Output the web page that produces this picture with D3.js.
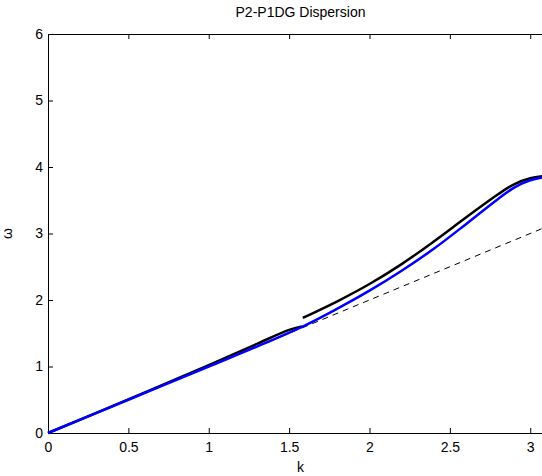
<!DOCTYPE html>
<html>
<head>
<meta charset="utf-8">
<script src="https://cdn.jsdelivr.net/npm/d3@7"></script>
<style>
  body { margin: 0; background: #fff; }
  svg { display: block; font-family: "Liberation Sans", Arial, sans-serif; }
</style>
</head>
<body>
<div id="chart"></div>
<script>
// data
const blueK = [0, 0.5, 1.0, 1.3, 1.6, 1.8, 2.0, 2.2, 2.4, 2.6, 2.8, 2.9, 3.0, 3.1416];
const blueW = [0, 0.5, 1.0, 1.3, 1.62, 1.87, 2.14, 2.44, 2.77, 3.14, 3.52, 3.69, 3.80, 3.87];

const blackLowK = [0, 0.5, 1.0, 1.3, 1.5, 1.58];
const blackLowW = [0, 0.505, 1.02, 1.34, 1.55, 1.6];

const blackHighK = [1.585, 1.8, 2.0, 2.2, 2.4, 2.6, 2.8, 2.9, 3.0, 3.1416];
const blackHighW = [1.73, 1.98, 2.24, 2.54, 2.88, 3.24, 3.59, 3.74, 3.83, 3.88];

const dashK = [0, 3.1416];
const dashW = [0, 3.1416];

const xTicks = [0, 0.5, 1, 1.5, 2, 2.5, 3];
const yTicks = [0, 1, 2, 3, 4, 5, 6];

const width = 542, height = 476;
const margin = {left: 48, top: 34, right: -11, bottom: 43};

const svg = d3.select("#chart").append("svg")
    .attr("width", width)
    .attr("height", height);

const x = d3.scaleLinear().domain([0, Math.PI]).range([margin.left, width - margin.right]);
const y = d3.scaleLinear().domain([0, 6]).range([height - margin.bottom, margin.top]);

const zip = (ks, ws) => ks.map((k, i) => [k, ws[i]]);
const line = d3.line().x(d => x(d[0])).y(d => y(d[1])).curve(d3.curveCatmullRom.alpha(0.5));

// axes, matlab style: ticks pointing in
svg.append("g")
    .attr("transform", `translate(0,${y(0)})`)
    .call(d3.axisBottom(x).tickValues(xTicks).tickSizeInner(-5).tickSizeOuter(0).tickPadding(9).tickFormat(d3.format("")));
svg.append("g")
    .attr("transform", `translate(0,${y(6)})`)
    .call(d3.axisTop(x).tickValues(xTicks).tickSizeInner(-5).tickSizeOuter(0).tickFormat(""));
svg.append("g")
    .attr("transform", `translate(${x(0)},0)`)
    .call(d3.axisLeft(y).tickValues(yTicks).tickSizeInner(-5).tickSizeOuter(0).tickPadding(5).tickFormat(d3.format("")));

svg.selectAll(".domain").attr("stroke", "#000").attr("stroke-width", 1);
svg.selectAll(".tick line").attr("stroke", "#000");
svg.selectAll(".tick text").attr("fill", "#000").style("font-size", "14px")
    .style("font-family", "\"Liberation Sans\", Arial, sans-serif");

// curves
svg.append("path")
    .datum(zip(dashK, dashW))
    .attr("d", line)
    .attr("fill", "none")
    .attr("stroke", "#000")
    .attr("stroke-width", 1)
    .attr("stroke-dasharray", "6,5");

[zip(blackLowK, blackLowW), zip(blackHighK, blackHighW)].forEach(pts => {
  svg.append("path")
      .datum(pts)
      .attr("d", line)
      .attr("fill", "none")
      .attr("stroke", "#000")
      .attr("stroke-width", 2.5);
});

svg.append("path")
    .datum(zip(blueK, blueW))
    .attr("d", line)
    .attr("fill", "none")
    .attr("stroke", "#0000ff")
    .attr("stroke-width", 2.5);

// labels
svg.append("text")
    .attr("x", (x(0) + x(Math.PI)) / 2)
    .attr("y", 17)
    .attr("text-anchor", "middle")
    .style("font-size", "14px")
    .text("P2-P1DG Dispersion");

svg.append("text")
    .attr("x", (x(0) + x(Math.PI)) / 2)
    .attr("y", 472)
    .attr("text-anchor", "middle")
    .style("font-size", "14px")
    .text("k");

svg.append("text")
    .attr("transform", `translate(12,${y(3)}) rotate(-90)`)
    .attr("text-anchor", "middle")
    .style("font-size", "14px")
    .text("ω");
</script>
</body>
</html>
